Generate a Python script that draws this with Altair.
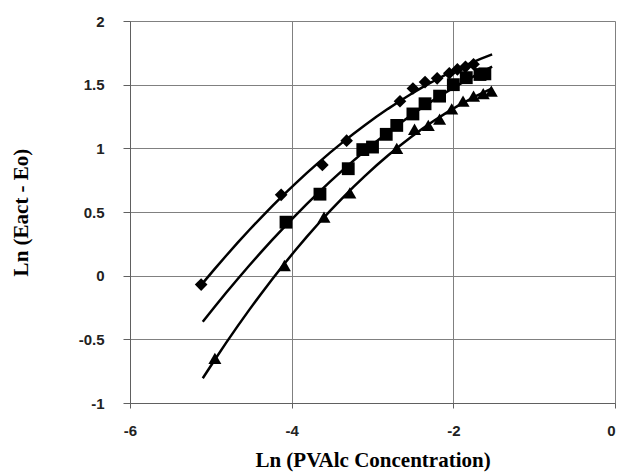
import altair as alt
import pandas as pd

# Diamond series
dia_x = [-5.12, -4.13, -3.62, -3.32, -2.66, -2.50, -2.35, -2.20, -2.05, -1.95, -1.85, -1.75]
dia_y = [-0.07, 0.635, 0.87, 1.06, 1.37, 1.47, 1.52, 1.55, 1.59, 1.62, 1.64, 1.66]
# Square series
sq_x = [-4.07, -3.65, -3.30, -3.12, -3.00, -2.83, -2.70, -2.50, -2.35, -2.17, -2.00, -1.84, -1.67, -1.61]
sq_y = [0.42, 0.64, 0.84, 0.99, 1.01, 1.11, 1.18, 1.27, 1.35, 1.41, 1.50, 1.555, 1.58, 1.585]
# Triangle series
tri_x = [-4.95, -4.09, -3.60, -3.28, -2.70, -2.48, -2.31, -2.17, -2.02, -1.88, -1.75, -1.63, -1.53]
tri_y = [-0.65, 0.08, 0.46, 0.65, 1.00, 1.15, 1.18, 1.23, 1.31, 1.37, 1.41, 1.43, 1.45]

x_ticks = [-6, -4, -2, 0]
y_ticks = [-1, -0.5, 0, 0.5, 1, 1.5, 2]

rows = []
for name, xs, ys in [("dia", dia_x, dia_y), ("sq", sq_x, sq_y), ("tri", tri_x, tri_y)]:
    for a, b in zip(xs, ys):
        rows.append({"series": name, "x": a, "y": b})
df = pd.DataFrame(rows)

xscale = alt.Scale(domain=[-6, 0], nice=False)
yscale = alt.Scale(domain=[-1, 2], nice=False)

common = dict(grid=True, gridColor="#808080", domainColor="#606060", tickColor="#606060",
              labelFont="Liberation Sans", labelFontSize=15, labelFontWeight="bold",
              labelColor="#222222", labelExpr="datum.value + ''",
              titleFont="Liberation Serif", titleFontSize=21, titleFontWeight="bold",
              titleColor="black", labelFlush=False)

xaxis = alt.Axis(values=x_ticks, title="Ln (PVAlc Concentration)", tickSize=5,
                 labelPadding=15, titlePadding=11,
                 labelAlign={"condition": {"test": "datum.value == 0", "value": "right"},
                             "value": "center"},
                 **common)
yaxis = alt.Axis(values=y_ticks, title="Ln (Eact - Eo)", tickSize=7,
                 labelPadding=19, titlePadding=47, **common)

base = alt.Chart(df)

lines = base.transform_regression(
    "x", "y", method="poly", order=2, groupby=["series"], extent=[-5.1, -1.52]
).mark_line(color="black", strokeWidth=2.5).encode(
    x=alt.X("x:Q", scale=xscale, axis=xaxis),
    y=alt.Y("y:Q", scale=yscale, axis=yaxis),
    detail="series:N",
)

shape_scale = alt.Scale(domain=["dia", "sq", "tri"], range=["diamond", "square", "triangle-up"])
size_scale = alt.Scale(domain=["dia", "sq", "tri"], range=[160, 170, 190])

points = base.mark_point(filled=True, color="black", opacity=1).encode(
    x=alt.X("x:Q", scale=xscale, axis=xaxis),
    y=alt.Y("y:Q", scale=yscale, axis=yaxis),
    shape=alt.Shape("series:N", scale=shape_scale, legend=None),
    size=alt.Size("series:N", scale=size_scale, legend=None),
)

chart = alt.layer(lines, points).properties(
    width=485, height=382,
    autosize=alt.AutoSizeParams(type="none"),
    padding={"left": 130, "top": 21, "right": 3, "bottom": 71},
).configure_view(stroke="#808080", strokeWidth=1).configure(background="white")

chart.save("out.html", embed_options={"renderer": "svg", "actions": False})
